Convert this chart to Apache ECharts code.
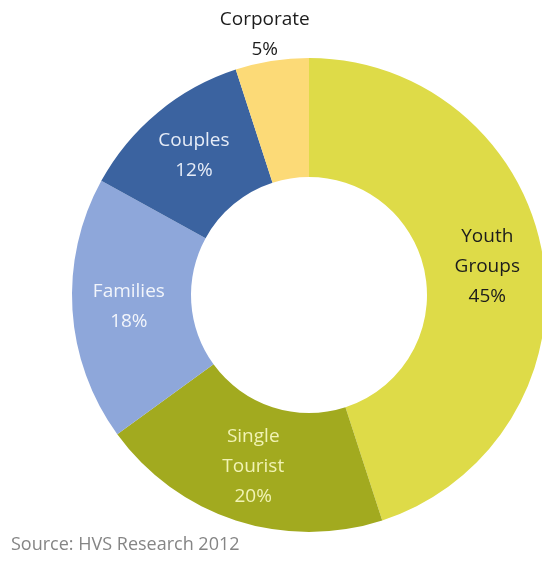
<!DOCTYPE html>
<html>
<head>
<meta charset="utf-8">
<script src="https://cdn.jsdelivr.net/npm/echarts@6/dist/echarts.min.js"></script>
<style>
  html, body { margin: 0; padding: 0; background: #ffffff; }
  #chart { width: 542px; height: 561px; }
</style>
</head>
<body>
<div id="chart"></div>
<script>
// Guest segments, clockwise from 12 o'clock
const categories = ['Youth\nGroups', 'Single\nTourist', 'Families', 'Couples', 'Corporate'];
const shares = [45, 20, 18, 12, 5];
const sliceColors = ['#dedb48', '#a2aa1f', '#8ea7da', '#3b63a0', '#fcda77'];
const labelColors = ['#1c1c1c', '#f1f3b4', '#f2f5fb', '#e6ecf7', '#1c1c1c'];
const sourceNote = 'Source: HVS Research 2012';

const FONT = '"Open Sans", Lato, sans-serif';

const data = categories.map((name, i) => {
  const item = {
    name: name,
    value: shares[i],
    itemStyle: { color: sliceColors[i] },
    label: { color: labelColors[i] }
  };
  if (i === 4) {
    // small slice: label sits above the ring
    item.label.offset = [-16, -82];
  }
  return item;
});

const chart = echarts.init(document.getElementById('chart'), null, { renderer: 'canvas' });
chart.setOption({
  backgroundColor: '#ffffff',
  animation: false,
  graphic: [{
    type: 'text',
    left: 11,
    top: 536,
    style: { text: sourceNote, fill: '#858585', font: '18px ' + FONT }
  }],
  series: [{
    type: 'pie',
    center: [309, 295],
    radius: [118, 237],
    startAngle: 90,
    clockwise: true,
    avoidLabelOverlap: false,
    silent: true,
    label: {
      show: true,
      position: 'inside',
      fontFamily: FONT,
      fontSize: 19,
      lineHeight: 30,
      align: 'center',
      formatter: p => p.name + '\n' + p.value + '%'
    },
    labelLine: { show: false },
    data: data
  }]
});
</script>
</body>
</html>
